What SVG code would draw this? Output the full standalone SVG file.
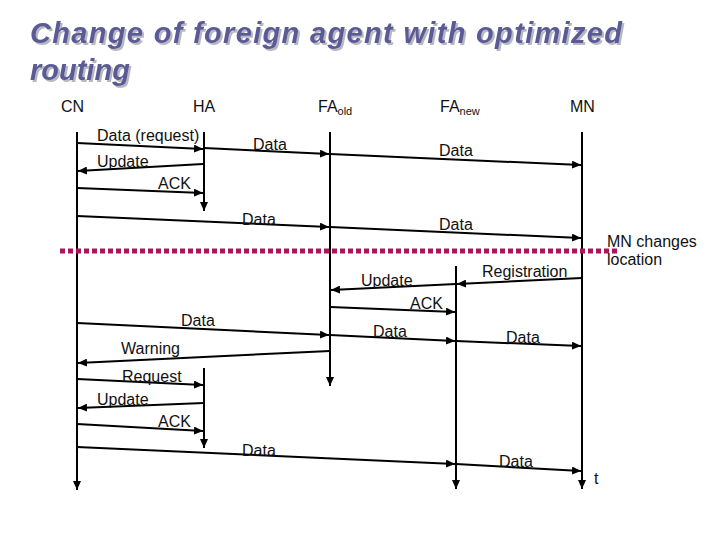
<svg xmlns="http://www.w3.org/2000/svg" width="720" height="540" viewBox="0 0 720 540">
<style>
.title{font-family:"Liberation Sans",Arial,sans-serif;font-weight:bold;font-style:italic;font-size:29px;fill:#5a5a96;filter:url(#shadow)}
.hdr{font-family:"Liberation Sans",Arial,sans-serif;font-size:16px;fill:#111}
.sub{font-size:11px}
.lbl{font-family:"Liberation Sans",Arial,sans-serif;font-size:16px;fill:#111}
.life{stroke:#000;stroke-width:2;fill:none;marker-end:url(#ah)}
.msg{stroke:#000;stroke-width:2;fill:none;marker-end:url(#ah)}
</style>
<defs>
<marker id="ah" markerUnits="userSpaceOnUse" markerWidth="9" markerHeight="8" refX="9" refY="4" orient="auto">
<path d="M0,0 L9,4 L0,8 z" fill="#000"/>
</marker>
<filter id="shadow" x="-5%" y="-30%" width="110%" height="160%">
<feDropShadow dx="2" dy="2" stdDeviation="0.6" flood-color="#b8b8c0" flood-opacity="1"/>
</filter>
</defs>
<rect width="720" height="540" fill="#fff"/>
<g id="title">
<text class="title" x="30" y="43" textLength="592" lengthAdjust="spacing">Change of foreign agent with optimized</text>
<text class="title" x="30" y="80">routing</text>
</g>
<g id="CN">
<text class="hdr" x="61" y="112">CN</text>
<line class="life" x1="77" y1="132" x2="77" y2="490"/>
</g>
<g id="HA">
<text class="hdr" x="193" y="112">HA</text>
<line class="life" x1="204" y1="132" x2="204" y2="211"/>
<line class="life" x1="204" y1="368" x2="204" y2="448"/>
</g>
<g id="FAold">
<text class="hdr" x="318" y="112">FA<tspan class="sub" dy="3">old</tspan></text>
<line class="life" x1="330" y1="132" x2="330" y2="386"/>
</g>
<g id="FAnew">
<text class="hdr" x="440" y="112">FA<tspan class="sub" dy="3">new</tspan></text>
<line class="life" x1="456" y1="266" x2="456" y2="489"/>
</g>
<g id="MN">
<text class="hdr" x="570" y="112">MN</text>
<line class="life" x1="582" y1="132" x2="582" y2="489"/>
</g>
<g id="move">
<line x1="60" y1="251" x2="618" y2="251" stroke="#a8175a" stroke-width="5" stroke-dasharray="5 3"/>
<text class="lbl" x="607" y="247">MN changes</text>
<text class="lbl" x="607" y="265">location</text>
<text class="lbl" x="594" y="484">t</text>
</g>
<g id="connectors">
<line class="msg" x1="77" y1="143" x2="203" y2="149"/>
<line class="msg" x1="204" y1="148" x2="329" y2="154"/>
<line class="msg" x1="330" y1="154" x2="581" y2="165"/>
<line class="msg" x1="203" y1="164" x2="78" y2="171"/>
<line class="msg" x1="77" y1="188" x2="203" y2="193"/>
<line class="msg" x1="77" y1="216" x2="329" y2="227"/>
<line class="msg" x1="330" y1="227" x2="581" y2="238"/>
<line class="msg" x1="582" y1="278" x2="457" y2="284"/>
<line class="msg" x1="456" y1="284" x2="331" y2="290"/>
<line class="msg" x1="330" y1="307" x2="455" y2="312"/>
<line class="msg" x1="77" y1="323" x2="329" y2="335"/>
<line class="msg" x1="330" y1="335" x2="455" y2="341"/>
<line class="msg" x1="456" y1="341" x2="581" y2="346"/>
<line class="msg" x1="330" y1="351" x2="78" y2="363"/>
<line class="msg" x1="77" y1="379" x2="203" y2="385"/>
<line class="msg" x1="204" y1="403" x2="78" y2="408"/>
<line class="msg" x1="77" y1="424" x2="203" y2="431"/>
<line class="msg" x1="77" y1="447" x2="455" y2="464"/>
<line class="msg" x1="456" y1="464" x2="581" y2="471"/>
</g>
<g id="labels">
<text class="lbl" x="97" y="141">Data (request)</text>
<text class="lbl" x="253" y="150">Data</text>
<text class="lbl" x="439" y="156">Data</text>
<text class="lbl" x="97" y="167">Update</text>
<text class="lbl" x="158" y="189">ACK</text>
<text class="lbl" x="242" y="225">Data</text>
<text class="lbl" x="439" y="230">Data</text>
<text class="lbl" x="482" y="277">Registration</text>
<text class="lbl" x="361" y="286">Update</text>
<text class="lbl" x="410" y="309">ACK</text>
<text class="lbl" x="181" y="326">Data</text>
<text class="lbl" x="373" y="337">Data</text>
<text class="lbl" x="506" y="343">Data</text>
<text class="lbl" x="121" y="354">Warning</text>
<text class="lbl" x="122" y="382">Request</text>
<text class="lbl" x="97" y="405">Update</text>
<text class="lbl" x="158" y="427">ACK</text>
<text class="lbl" x="242" y="456">Data</text>
<text class="lbl" x="499" y="467">Data</text>
</g>
</svg>
